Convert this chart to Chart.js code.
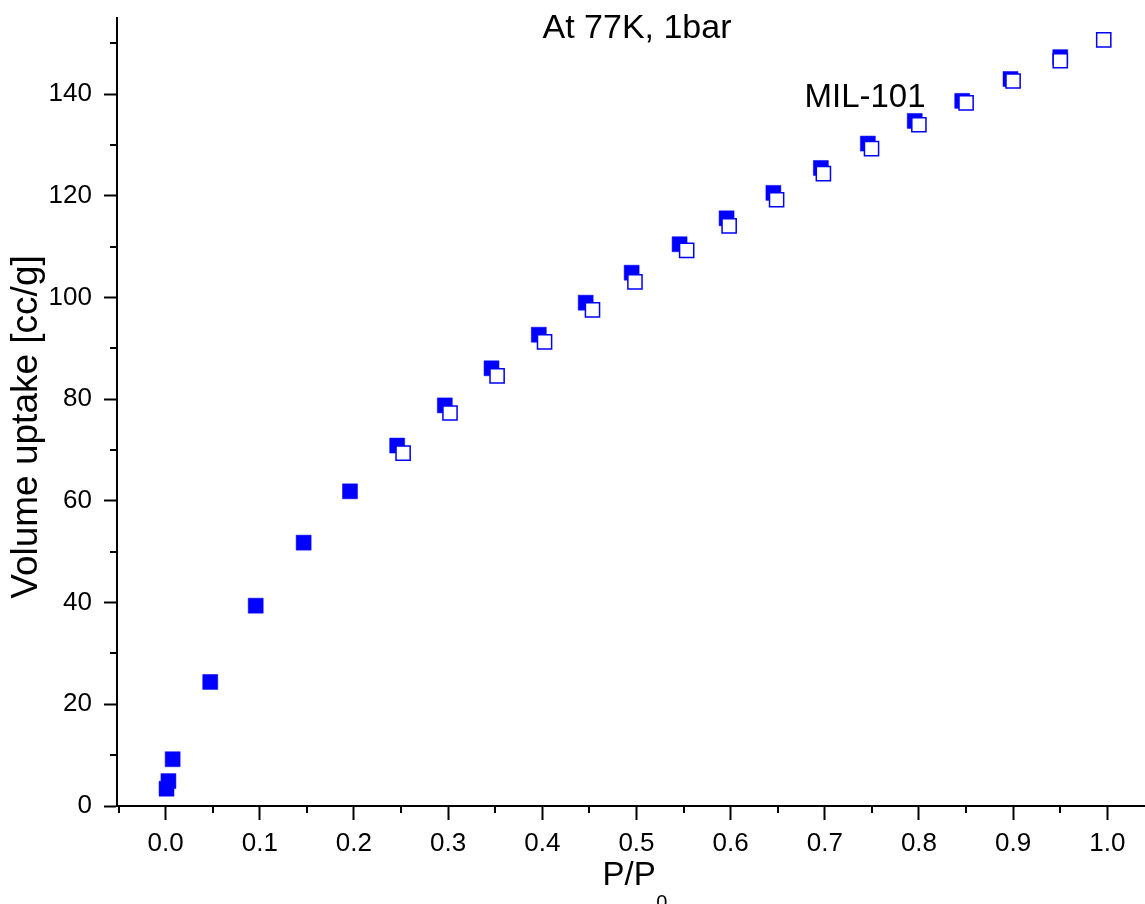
<!DOCTYPE html>
<html>
<head>
<meta charset="utf-8">
<script src="https://cdn.jsdelivr.net/npm/chart.js@4/dist/chart.umd.min.js"></script>
<style>
html,body{margin:0;padding:0;background:#fff;overflow:hidden;}
#wrap{width:1145px;height:904px;position:relative;}
#c{display:block;}
</style>
</head>
<body>
<div id="wrap"><canvas id="c"></canvas></div>
<script>
// ---- data ----
const adsorptionP = [0.001, 0.003, 0.0075, 0.0474, 0.0957, 0.1466, 0.1958, 0.2459, 0.2965, 0.3461, 0.3963, 0.4461, 0.4949, 0.5458, 0.5957, 0.6454, 0.6958, 0.7457, 0.7955, 0.8459, 0.8972, 0.950];
const adsorptionV = [3.4, 4.9, 9.2, 24.4, 39.4, 51.8, 61.9, 70.9, 78.8, 86.1, 92.7, 99.0, 104.9, 110.5, 115.6, 120.6, 125.5, 130.3, 134.75, 138.7, 143.0, 147.3];
const desorptionP = [0.2522, 0.302, 0.352, 0.4024, 0.4533, 0.4984, 0.5533, 0.5984, 0.6488, 0.6985, 0.7496, 0.7999, 0.850, 0.8999, 0.950, 0.9962];
const desorptionV = [69.4, 77.3, 84.6, 91.3, 97.6, 103.1, 109.3, 114.1, 119.25, 124.4, 129.3, 134.0, 138.3, 142.6, 146.6, 150.7];
const xTicks = [0.0, 0.1, 0.2, 0.3, 0.4, 0.5, 0.6, 0.7, 0.8, 0.9, 1.0];
const xMinorTicks = [-0.05, 0.05, 0.15, 0.25, 0.35, 0.45, 0.55, 0.65, 0.75, 0.85, 0.95];
const yTicks = [0, 20, 40, 60, 80, 100, 120, 140];
const yMinorTicks = [10, 30, 50, 70, 90, 110, 130, 150];
const titleText = "At 77K, 1bar";
const sampleText = "MIL-101";
const yTitleText = "Volume uptake [cc/g]";
const xTitleMain = "P/P";
const xTitleSub = "0";

const FONT = "'Liberation Sans', Arial, Helvetica, sans-serif";
const BLUE = '#0000ff';

const annotations = {
  id: 'annotations',
  afterDraw(chart) {
    const ctx = chart.ctx;
    const a = chart.chartArea;
    const xs = chart.scales.x, ys = chart.scales.y;
    ctx.save();
    // minor ticks
    ctx.strokeStyle = '#000';
    ctx.lineWidth = 2;
    ctx.beginPath();
    xMinorTicks.forEach(v => {
      const px = Math.round(xs.getPixelForValue(v));
      ctx.moveTo(px, a.bottom); ctx.lineTo(px, a.bottom + 7);
    });
    yMinorTicks.forEach(v => {
      const py = Math.round(ys.getPixelForValue(v));
      ctx.moveTo(a.left, py); ctx.lineTo(a.left - 7, py);
    });
    ctx.stroke();

    ctx.fillStyle = '#000';
    // title
    ctx.font = '34px ' + FONT;
    ctx.textAlign = 'center';
    ctx.textBaseline = 'alphabetic';
    ctx.fillText(titleText, 637, 37.5);
    // sample label
    ctx.font = '33px ' + FONT;
    ctx.textAlign = 'left';
    ctx.fillText(sampleText, 804.5, 107);
    // x title with subscript
    ctx.font = '33px ' + FONT;
    ctx.textAlign = 'left';
    ctx.fillText(xTitleMain, 602.5, 885);
    const w = ctx.measureText(xTitleMain).width;
    ctx.font = '20px ' + FONT;
    ctx.fillText(xTitleSub, 602.5 + w + 0.5, 909);
    // y title rotated
    ctx.font = '37px ' + FONT;
    ctx.translate(37, 427);
    ctx.rotate(-Math.PI / 2);
    ctx.textAlign = 'center';
    ctx.fillText(yTitleText, 0, 0);
    ctx.restore();
  }
};

const tickFont = { family: FONT, size: 26 };

new Chart(document.getElementById('c'), {
  type: 'scatter',
  data: {
    datasets: [
      {
        label: 'desorption',
        data: desorptionP.map((p, i) => ({ x: p, y: desorptionV[i] })),
        pointStyle: 'rect',
        pointRadius: 10,
        pointBorderWidth: 1.5,
        pointBorderColor: BLUE,
        pointBackgroundColor: '#ffffff',
        showLine: false,
        order: 0
      },
      {
        label: 'adsorption',
        data: adsorptionP.map((p, i) => ({ x: p, y: adsorptionV[i] })),
        pointStyle: 'rect',
        pointRadius: 10.6,
        pointBorderWidth: 0.5,
        pointBorderColor: BLUE,
        pointBackgroundColor: BLUE,
        showLine: false,
        order: 1
      }
    ]
  },
  options: {
    responsive: true,
    maintainAspectRatio: false,
    animation: false,
    events: [],
    layout: { autoPadding: false, padding: { top: 18, right: 0, left: 0, bottom: 0 } },
    plugins: { legend: { display: false }, tooltip: { enabled: false }, title: { display: false } },
    scales: {
      x: {
        type: 'linear',
        min: -0.0516,
        max: 1.04,
        afterBuildTicks: s => { s.ticks = xTicks.map(v => ({ value: v })); },
        afterFit: s => { s.height = 98; s.paddingLeft = 0; s.paddingRight = 0; },
        ticks: {
          font: tickFont, color: '#000', padding: 8,
          maxRotation: 0, autoSkip: false,
          callback: v => Number(v).toFixed(1)
        },
        grid: { drawOnChartArea: false, tickLength: 14, tickWidth: 2, tickColor: '#000' },
        border: { display: true, color: '#000', width: 2 }
      },
      y: {
        type: 'linear',
        min: 0,
        max: 155,
        afterBuildTicks: s => { s.ticks = yTicks.map(v => ({ value: v })); },
        afterFit: s => { s.width = 117; s.paddingTop = 0; s.paddingBottom = 0; },
        ticks: {
          font: tickFont, color: '#000', padding: 12, autoSkip: false,
          callback: v => String(v)
        },
        grid: { drawOnChartArea: false, tickLength: 13, tickWidth: 2, tickColor: '#000' },
        border: { display: true, color: '#000', width: 2 }
      }
    }
  },
  plugins: [annotations]
});
</script>
</body>
</html>
